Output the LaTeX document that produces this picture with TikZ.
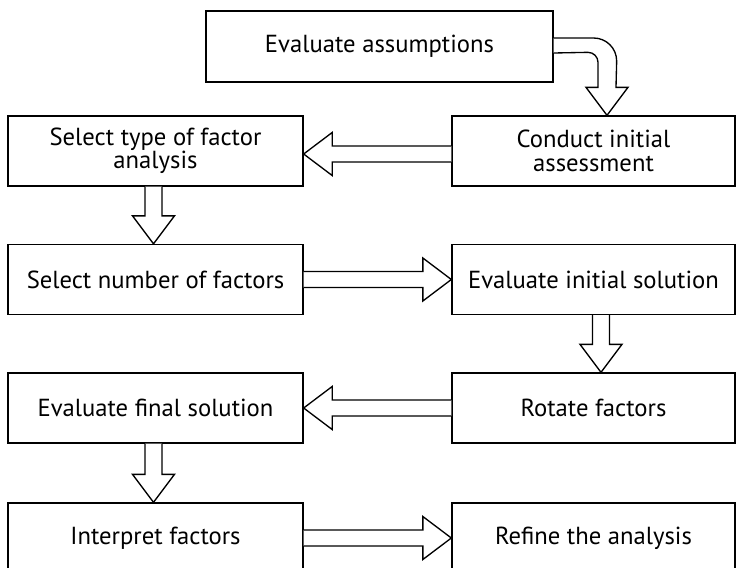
\documentclass[tikz,border=0pt]{standalone}
\usepackage{fontspec}
\setmainfont{PT Sans}
\usetikzlibrary{calc}

% hollow block arrows: shaft starts on #1, tip ends on #2
\newcommand{\downfat}[2]{%
  \draw[fat] ($(#1)+(-8.5,0)$) -- ($(#2)+(-8.5,-28)$) -- ($(#2)+(-21,-28)$) -- (#2)
    -- ($(#2)+(21,-28)$) -- ($(#2)+(8.5,-28)$) -- ($(#1)+(8.5,0)$);}
\newcommand{\rightfat}[2]{%
  \draw[fat] ($(#1)+(0,-8)$) -- ($(#2)+(-28.5,-8)$) -- ($(#2)+(-28.5,-21.5)$) -- (#2)
    -- ($(#2)+(-28.5,21.5)$) -- ($(#2)+(-28.5,8)$) -- ($(#1)+(0,8)$);}
\newcommand{\leftfat}[2]{%
  \draw[fat] ($(#1)+(0,-8)$) -- ($(#2)+(28.5,-8)$) -- ($(#2)+(28.5,-21.5)$) -- (#2)
    -- ($(#2)+(28.5,21.5)$) -- ($(#2)+(28.5,8)$) -- ($(#1)+(0,8)$);}

\begin{document}
\begin{tikzpicture}[
    x=0.75pt, y=-0.75pt, % pixel grid, y pointing down
    box/.style={draw, line width=1pt, align=center, inner sep=0pt,
        font=\fontsize{18.5}{17.5}\selectfont}, % Common box look
    leftbox/.style={box, minimum width=221.25pt, minimum height=52.5pt},
    rightbox/.style={box, minimum width=212.25pt, minimum height=52.5pt},
    fat/.style={draw, line width=1pt, fill=white, line join=miter} % Block arrows
]
    \useasboundingbox (0,0) rectangle (736,568);
    \clip (0,0) rectangle (736,568);

    % Top box
    \node[box, minimum width=260.25pt, minimum height=53.25pt] (assump) at (379.5,46.5) {Evaluate assumptions};

    % Left column
    \node[leftbox] (type) at (155.5,151) {Select type of factor\\analysis};
    \node[leftbox] (number) at (155.5,279.5) {Select number of factors};
    \node[leftbox] (final) at (155.5,408) {Evaluate final solution};
    \node[leftbox] (interpret) at (155.5,538) {Interpret factors};

    % Right column
    \node[rightbox] (conduct) at (593.5,151) {Conduct initial\\assessment};
    \node[rightbox] (initial) at (593.5,279.5) {Evaluate initial solution};
    \node[rightbox] (rotate) at (593.5,408) {Rotate factors};
    \node[rightbox] (refine) at (593.5,538) {Refine the analysis};

    % Bent arrow from the top box down onto the first step
    \coordinate (tip) at ($(conduct.north)+(13.5,0)$);
    \draw[fat] ($(assump.east)+(0,-8.5)$) -- ++(40,0) arc[start angle=90, end angle=0, radius=17.25pt]
        -- ($(tip)+(9,-28)$) -- ($(tip)+(21,-28)$) -- (tip) -- ($(tip)+(-21,-28)$)
        -- ($(tip)+(-9,-28)$) -- ($(tip)+(-9,-53)$) arc[start angle=0, end angle=90, radius=7.5pt]
        -- ($(assump.east)+(0,6.5)$);

    % Zig-zag through the steps
    \leftfat{$(conduct.west)+(0,3)$}{$(type.east)+(0,3)$}
    \downfat{$(type.south)+(-2,0)$}{$(number.north)+(-2,0)$}
    \rightfat{number.east}{initial.west}
    \downfat{$(initial.south)+(7.5,0)$}{$(rotate.north)+(7.5,0)$}
    \leftfat{rotate.west}{final.east}
    \downfat{$(final.south)+(-2,0)$}{$(interpret.north)+(-2,0)$}
    \rightfat{interpret.east}{refine.west}

\end{tikzpicture}
\end{document}
